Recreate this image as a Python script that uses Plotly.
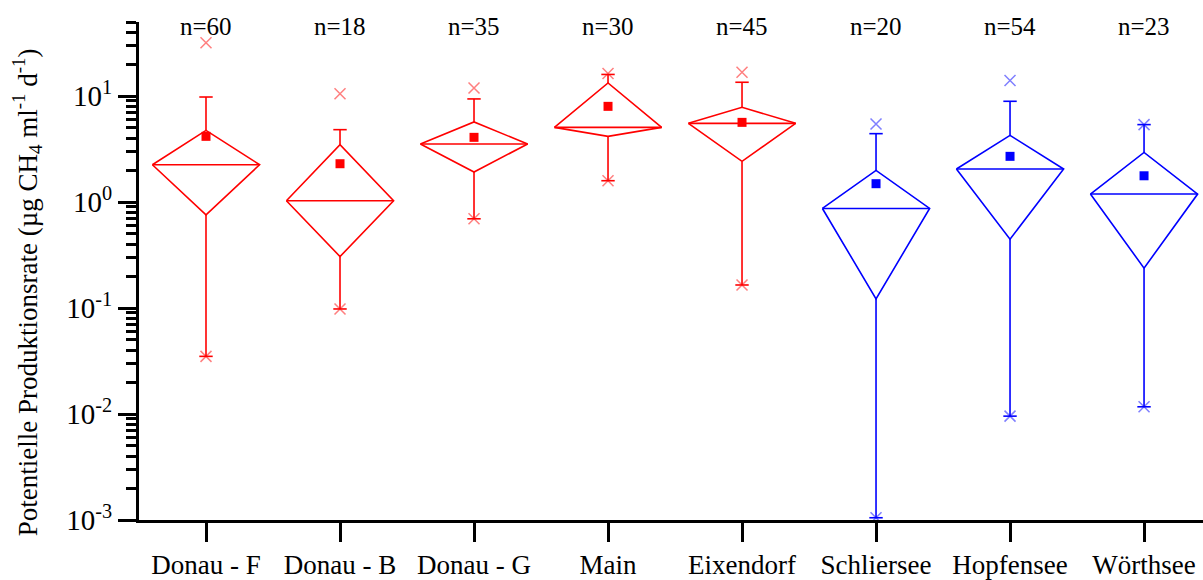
import numpy as np
import plotly.graph_objects as go

categories = ["Donau - F", "Donau - B", "Donau - G", "Main", "Eixendorf",
              "Schliersee", "Hopfensee", "Wörthsee"]
n_values = [60, 18, 35, 30, 45, 20, 54, 23]
q1 = [0.758, 0.306, 1.92, 4.17, 2.42, 0.122, 0.447, 0.238]
median = [2.25, 1.03, 3.53, 5.07, 5.53, 0.87, 2.05, 1.19]
q3 = [4.75, 3.48, 5.70, 13.3, 7.84, 1.99, 4.26, 2.94]
mean = [4.17, 2.30, 4.08, 8.0, 5.65, 1.49, 2.70, 1.77]
whisk_lo = [0.035, 0.098, 0.695, 1.59, 0.165, 0.00105, 0.00955, 0.0117]
whisk_hi = [9.8, 4.82, 9.4, 16.0, 13.5, 4.42, 8.93, 5.38]
ext_lo = [0.035, 0.098, 0.695, 1.59, 0.165, 0.00105, 0.00955, 0.0117]
ext_hi = [31.8, 10.5, 11.9, 16.3, 16.8, 5.46, 14.0, 5.38]
colors = ["#FF0000"] * 5 + ["#0000FF"] * 3
light = ["rgba(255,0,0,0.5)"] * 5 + ["rgba(0,0,255,0.5)"] * 3

ytickvals = [1e-3, 1e-2, 1e-1, 1e0, 1e1]
yticktext = ["10<sup>-3</sup>", "10<sup>-2</sup>", "10<sup>-1</sup>",
             "10<sup>0</sup>", "10<sup>1</sup>"]

FONT = "Liberation Serif, Times New Roman, Tinos, serif"
HW = 0.4   # diamond half width
CW = 0.05  # cap half width

fig = go.Figure()
for i, c in enumerate(categories):
    xs, ys = [], []
    xs += [i - HW, i, i + HW, i, i - HW, None]
    ys += [median[i], q3[i], median[i], q1[i], median[i], None]
    xs += [i - HW, i + HW, None]
    ys += [median[i], median[i], None]
    xs += [i, i, None, i - CW, i + CW, None]
    ys += [q3[i], whisk_hi[i], None, whisk_hi[i], whisk_hi[i], None]
    xs += [i, i, None, i - CW, i + CW, None]
    ys += [q1[i], whisk_lo[i], None, whisk_lo[i], whisk_lo[i], None]
    fig.add_trace(go.Scatter(x=xs, y=ys, mode="lines",
                             line=dict(color=colors[i], width=1.6),
                             showlegend=False, hoverinfo="skip"))
    fig.add_trace(go.Scatter(x=[i, i], y=[ext_lo[i], ext_hi[i]], mode="markers",
                             marker=dict(symbol="x-thin-open", size=11,
                                         color=light[i],
                                         line=dict(color=light[i], width=1.5)),
                             showlegend=False))
    fig.add_trace(go.Scatter(x=[i], y=[mean[i]], mode="markers",
                             marker=dict(symbol="square", size=9, color=colors[i],
                                         line=dict(width=0)),
                             showlegend=False))

minor_vals = []
for d in range(-3, 2):
    for m in range(2, 10):
        v = m * 10.0 ** d
        if v <= 50.0001:
            minor_vals.append(v)

fig.update_layout(
    width=1203, height=580,
    margin=dict(l=139, r=0, t=22, b=60),
    plot_bgcolor="white", paper_bgcolor="white",
    font=dict(family=FONT, color="black"),
    xaxis=dict(range=[-0.5, 7.44], tickmode="array",
               tickvals=list(range(len(categories))), ticktext=categories,
               showline=True, linecolor="black", linewidth=3,
               ticks="outside", ticklen=19, tickwidth=3, tickcolor="black",
               showgrid=False, zeroline=False,
               tickfont=dict(size=27, family=FONT)),
    yaxis=dict(type="log", range=[-3, np.log10(50)],
               tickmode="array", tickvals=ytickvals, ticktext=yticktext,
               showline=True, linecolor="black", linewidth=3,
               ticks="outside", ticklen=18, tickwidth=3, tickcolor="black",
               showgrid=False, zeroline=False,
               tickfont=dict(size=29, family=FONT),
               minor=dict(tickmode="array", tickvals=minor_vals, ticks="outside",
                          ticklen=10, tickwidth=2.5, tickcolor="black",
                          showgrid=False)),
)

annotations = []
for i, n in enumerate(n_values):
    annotations.append(dict(x=i, y=0.991, xref="x", yref="paper",
                            text=f"n={n}", showarrow=False,
                            font=dict(size=25, family=FONT),
                            xanchor="center", yanchor="middle"))
annotations.append(dict(x=-0.105, y=0.458, xref="paper", yref="paper",
                        text="Potentielle Produktionsrate (µg CH<sub>4</sub> ml<sup>-1</sup> d<sup>-1</sup>)",
                        textangle=-90, showarrow=False,
                        font=dict(size=27, family=FONT),
                        xanchor="center", yanchor="middle"))
fig.update_layout(annotations=annotations)

fig.write_html("out.html")
